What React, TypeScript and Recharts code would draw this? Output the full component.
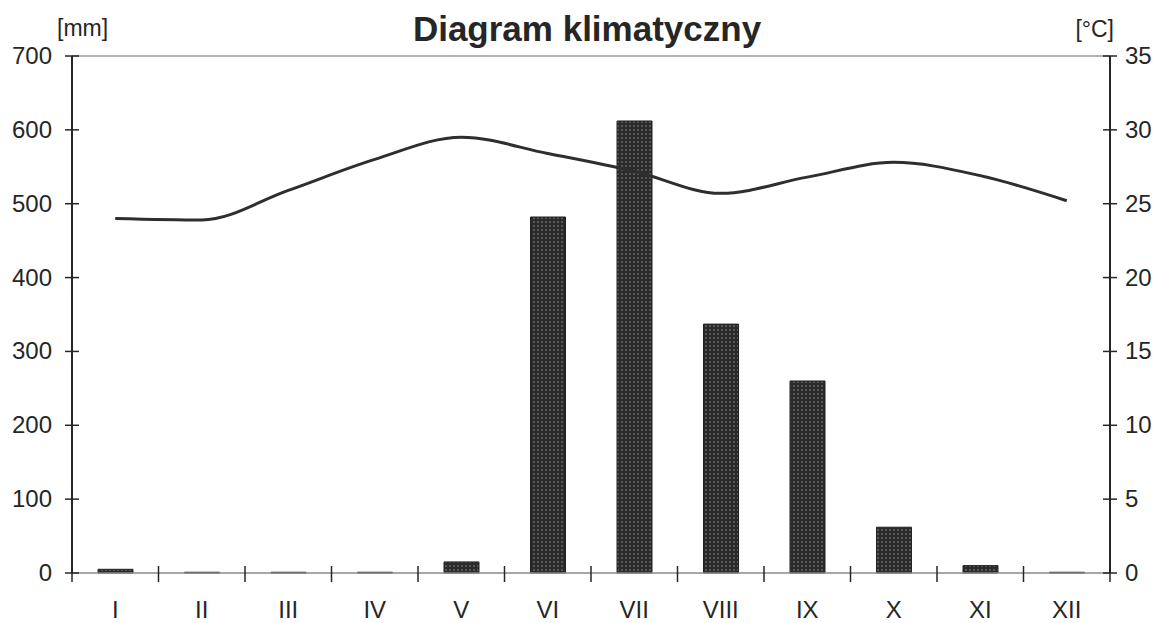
import React from "react";
import { Bar, ComposedChart, Line, ReferenceLine, XAxis, YAxis } from "recharts";

const months = ["I", "II", "III", "IV", "V", "VI", "VII", "VIII", "IX", "X", "XI", "XII"];
const precipitation = [5, 1, 1, 1, 15, 482, 612, 337, 260, 62, 10, 1];
const temperature = [24.0, 23.9, 25.9, 28.0, 29.5, 28.4, 27.2, 25.7, 26.8, 27.8, 26.9, 25.2];
const mmTicks = [0, 100, 200, 300, 400, 500, 600, 700];
const tempTicks = [0, 5, 10, 15, 20, 25, 30, 35];

const data = months.map((m, i) => ({ month: m, mm: precipitation[i], temp: temperature[i] }));

const W = 1161;
const H = 623;
const margin = { top: 56, right: 0, left: 12, bottom: 0 };
const leftW = 60;
const rightW = 51;
const band = (W - margin.left - leftW - margin.right - rightW) / months.length;
const font = "'Liberation Sans', Arial, sans-serif";
const ink = "#262626";

function LeftTick({ x, y, payload }: any) {
  return (
    <g>
      <line x1={x - 7} x2={x + 7} y1={y} y2={y} stroke={ink} strokeWidth={1.5} />
      <text x={x - 20} y={y + 8} textAnchor="end" fontFamily={font} fontSize={24} fill={ink}>
        {payload.value}
      </text>
    </g>
  );
}

function RightTick({ x, y, payload }: any) {
  return (
    <g>
      <line x1={x - 7} x2={x + 7} y1={y} y2={y} stroke={ink} strokeWidth={1.5} />
      <text x={x + 15} y={y + 8} textAnchor="start" fontFamily={font} fontSize={24} fill={ink}>
        {payload.value}
      </text>
    </g>
  );
}

function MonthTick({ x, y, payload, index }: any) {
  const half = band / 2;
  return (
    <g>
      {index === 0 && <line x1={x - half} x2={x - half} y1={y - 7} y2={y + 9} stroke={ink} strokeWidth={1.5} />}
      <line x1={x + half} x2={x + half} y1={y - 7} y2={y + 9} stroke={ink} strokeWidth={1.5} />
      <text x={x} y={y + 45} textAnchor="middle" fontFamily={font} fontSize={24} fill={ink}>
        {payload.value}
      </text>
    </g>
  );
}

export default function App() {
  return (
    <div style={{ position: "absolute", left: 0, top: 0, width: W, height: H, background: "#fff" }}>
      <ComposedChart width={W} height={H} data={data} margin={margin}>
        <defs>
          <pattern id="dots" width="4" height="4" patternUnits="userSpaceOnUse">
            <rect width="4" height="4" fill="#2b2b2b" />
            <circle cx="2" cy="2" r="0.8" fill="#909090" />
          </pattern>
        </defs>
        <XAxis
          dataKey="month"
          height={50}
          tickSize={0}
          tickMargin={0}
          tickLine={false}
          axisLine={{ stroke: "#8a8a8a", strokeWidth: 1.5 }}
          tick={<MonthTick />}
          interval={0}
        />
        <YAxis
          yAxisId="mm"
          orientation="left"
          width={leftW}
          domain={[0, 700]}
          ticks={mmTicks}
          tickSize={0}
          tickMargin={0}
          tickLine={false}
          axisLine={{ stroke: ink, strokeWidth: 2 }}
          tick={<LeftTick />}
          interval={0}
        />
        <YAxis
          yAxisId="t"
          orientation="right"
          width={rightW}
          domain={[0, 35]}
          ticks={tempTicks}
          tickSize={0}
          tickMargin={0}
          tickLine={false}
          axisLine={{ stroke: ink, strokeWidth: 2 }}
          tick={<RightTick />}
          interval={0}
        />
        <ReferenceLine yAxisId="mm" y={700} stroke="#9a9a9a" strokeWidth={1.5} />
        <Bar
          yAxisId="mm"
          dataKey="mm"
          barSize={35}
          fill="url(#dots)"
          stroke="#222"
          strokeWidth={1}
          isAnimationActive={false}
        />
        <Line
          yAxisId="t"
          dataKey="temp"
          type="monotone"
          stroke="#2e2e2e"
          strokeWidth={3}
          dot={false}
          activeDot={false}
          isAnimationActive={false}
        />
      </ComposedChart>
      <svg width={W} height={60} style={{ position: "absolute", left: 0, top: 0, pointerEvents: "none" }}>
        <text x={587} y={41} textAnchor="middle" fontFamily={font} fontSize={35} fontWeight="bold" fill={ink}>
          Diagram klimatyczny
        </text>
        <text x={57} y={36} fontFamily={font} fontSize={23} fill={ink}>
          [mm]
        </text>
        <text x={1114} y={37} textAnchor="end" fontFamily={font} fontSize={23} fill={ink}>
          [°C]
        </text>
      </svg>
    </div>
  );
}
